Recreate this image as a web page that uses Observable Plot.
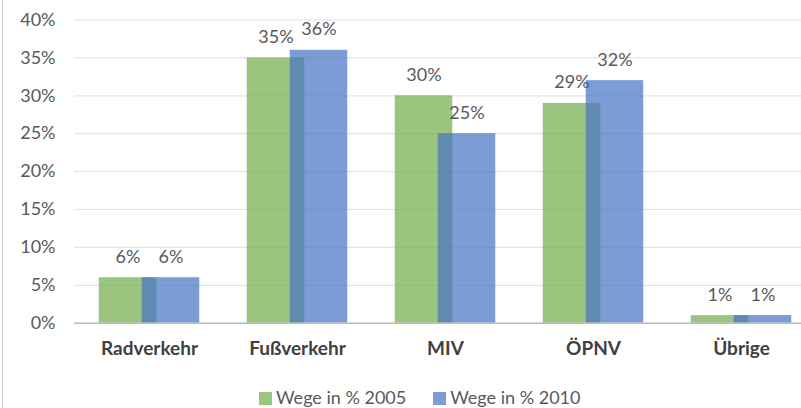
<!DOCTYPE html>
<html>
<head>
<meta charset="utf-8">
<script src="https://cdn.jsdelivr.net/npm/d3@7"></script>
<script src="https://cdn.jsdelivr.net/npm/@observablehq/plot@0.6"></script>
<style>
  html, body { margin: 0; padding: 0; background: #fff; }
  #wrap { position: relative; width: 801px; height: 408px; overflow: hidden; font-family: Lato, "Open Sans", sans-serif; }
  #border { position: absolute; left: 2px; top: 0; width: 1px; height: 408px; background: #cfcfcf; }
  #legend { position: absolute; left: 259px; top: 386px; height: 22px; display: flex; align-items: center; font-size: 18px; color: #595959; }
  #legend div { margin-right: 27px; white-space: nowrap; }
  #legend span.sw { display: inline-block; width: 13px; height: 13px; margin-right: 4px; vertical-align: -1px; }
</style>
</head>
<body>
<div id="wrap">
  <div id="chart"></div>
  <div id="border"></div>
  <div id="legend"></div>
</div>
<script>
const categories = ["Radverkehr", "Fußverkehr", "MIV", "ÖPNV", "Übrige"];
const series = ["Wege in % 2005", "Wege in % 2010"];
const values2005 = [6, 35, 30, 29, 1];
const values2010 = [6, 36, 25, 32, 1];
const yTicks = [0, 5, 10, 15, 20, 25, 30, 35, 40];

const green = "#70AD47", blue = "#4472C4", alpha = 0.7;
const d2005 = categories.map((c, i) => ({cat: c, v: values2005[i]}));
const d2010 = categories.map((c, i) => ({cat: c, v: values2010[i]}));

const bw = 148.5, barW = 58, off = 21.5, inset = (bw - barW) / 2;

const chart = Plot.plot({
  width: 801,
  height: 408,
  marginLeft: 74,
  marginRight: 0,
  marginTop: 19.5,
  marginBottom: 85.3,
  style: {fontFamily: "Lato, 'Open Sans', sans-serif", background: "white", overflow: "visible"},
  x: {type: "band", domain: categories, range: [74, 74 + 5 * bw], padding: 0, label: null},
  y: {domain: [0, 40], label: null},
  marks: [
    Plot.gridY(yTicks, {stroke: "#e4e4e4", strokeOpacity: 1, strokeWidth: 1.2}),
    Plot.axisY(yTicks, {tickSize: 0, tickPadding: 19, tickFormat: d => d + "%", fontSize: 18, fill: "#595959", label: null}),
    Plot.barY(d2005, {x: "cat", y: "v", fill: green, fillOpacity: alpha, insetLeft: inset, insetRight: inset, dx: -off}),
    Plot.barY(d2010, {x: "cat", y: "v", fill: blue, fillOpacity: alpha, insetLeft: inset, insetRight: inset, dx: off}),
    Plot.ruleY([0], {stroke: "#bdbdbd", strokeWidth: 1.5}),
    Plot.text(d2005, {x: "cat", y: "v", text: d => d.v + "%", dx: -off, dy: -15, lineAnchor: "bottom", fontSize: 18, fill: "#595959"}),
    Plot.text(d2010, {x: "cat", y: "v", text: d => d.v + "%", dx: off, dy: -15, lineAnchor: "bottom", fontSize: 18, fill: "#595959"}),
    Plot.axisX({tickSize: 0, tickPadding: 18, fontSize: 19, fontWeight: "bold", fill: "#404040", label: null})
  ]
});
document.getElementById("chart").appendChild(chart);

const legend = document.getElementById("legend");
[[series[0], "#9BC67E"], [series[1], "#7C9CD6"]].forEach(([name, col]) => {
  const item = document.createElement("div");
  item.innerHTML = `<span class="sw" style="background:${col}"></span>${name}`;
  legend.appendChild(item);
});
</script>
</body>
</html>
